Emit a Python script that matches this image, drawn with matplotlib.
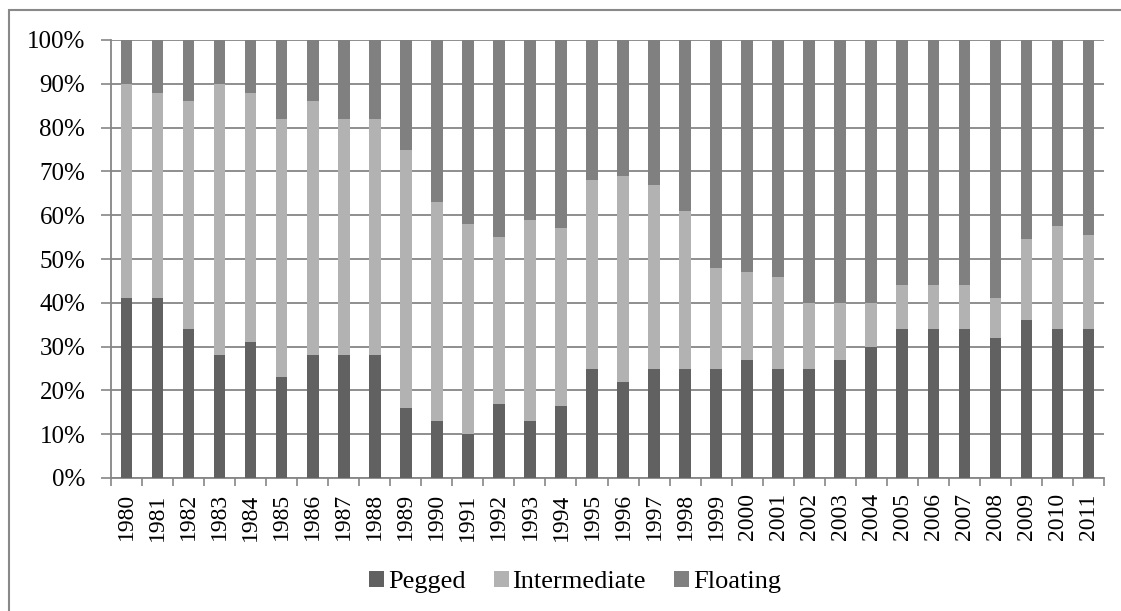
import matplotlib
matplotlib.use("Agg")
import matplotlib.pyplot as plt
from matplotlib.patches import Rectangle, Patch
from matplotlib.ticker import FixedLocator
import numpy as np

plt.rcParams['font.family'] = ['Liberation Serif', 'DejaVu Serif']

years = [str(y) for y in range(1980, 2012)]

# Share of regimes (percent); pegged at bottom, intermediate in the middle, floating on top
pegged = [41, 41, 34, 28, 31, 23, 28, 28, 28, 16, 13, 10, 17, 13, 16.5, 25,
          22, 25, 25, 25, 27, 25, 25, 27, 30, 34, 34, 34, 32, 36, 34, 34]
pegged_plus_intermediate = [90, 88, 86, 90, 88, 82, 86, 82, 82, 75, 63, 58, 55, 59, 57, 68,
                            69, 67, 61, 48, 47, 46, 40, 40, 40, 44, 44, 44, 41, 54.5, 57.5, 55.5]
intermediate = [t - p for t, p in zip(pegged_plus_intermediate, pegged)]
floating = [100 - t for t in pegged_plus_intermediate]

series_names = ["Pegged", "Intermediate", "Floating"]
series_colors = ["#616161", "#b2b2b2", "#808080"]
y_ticks = [0, 10, 20, 30, 40, 50, 60, 70, 80, 90, 100]
y_tick_labels = [f"{v}%" for v in y_ticks]

W, H = 1121, 611
fig = plt.figure(figsize=(W / 100, H / 100), dpi=100)
ax = fig.add_axes([111 / W, 1 - 478 / H, (1104 - 111) / W, (478 - 40) / H])

x = np.arange(len(years))
bw = 0.375
bottom = np.zeros(len(years))
for vals, name, col in zip([pegged, intermediate, floating], series_names, series_colors):
    ax.bar(x, vals, bw, bottom=bottom, color=col, label=name, zorder=3, linewidth=0)
    bottom += np.array(vals)

grid_col = "#868686"
ax.set_xlim(-0.5, len(years) - 0.5)
ax.set_ylim(0, 100)
ax.set_yticks(y_ticks)
ax.set_yticklabels(y_tick_labels, fontsize=18)
ax.yaxis.grid(True, color=grid_col, linewidth=1.3, zorder=0)
ax.set_axisbelow(True)

ax.set_xticks(x)
ax.set_xticklabels(years, rotation=90, fontsize=17)
ax.xaxis.set_minor_locator(FixedLocator(np.arange(-0.5, len(years), 1.0)))
ax.tick_params(axis='x', which='major', length=0, pad=11)
ax.tick_params(axis='x', which='minor', length=6, width=1.2, color=grid_col)
ax.tick_params(axis='y', which='major', length=7, width=1.2, color=grid_col, pad=11.5)

for side in ("top", "right"):
    ax.spines[side].set_visible(False)
for side in ("left", "bottom"):
    ax.spines[side].set_color(grid_col)
    ax.spines[side].set_linewidth(1.3)

handles = [Patch(facecolor=c, edgecolor='none') for c in series_colors]
fig.legend(handles, series_names, loc='center', bbox_to_anchor=(575 / W, 1 - 582 / H),
           ncol=3, frameon=False, fontsize=19, handlelength=0.57, handleheight=0.57,
           handletextpad=0.15, columnspacing=1.06, borderpad=0, borderaxespad=0)

# outer chart frame
fig.patches.append(Rectangle((9 / W, -0.1), 1.2, 1 - 10 / H + 0.1, transform=fig.transFigure,
                             fill=False, edgecolor="#898989", linewidth=1.5))

fig.savefig("out.png", dpi=100)
